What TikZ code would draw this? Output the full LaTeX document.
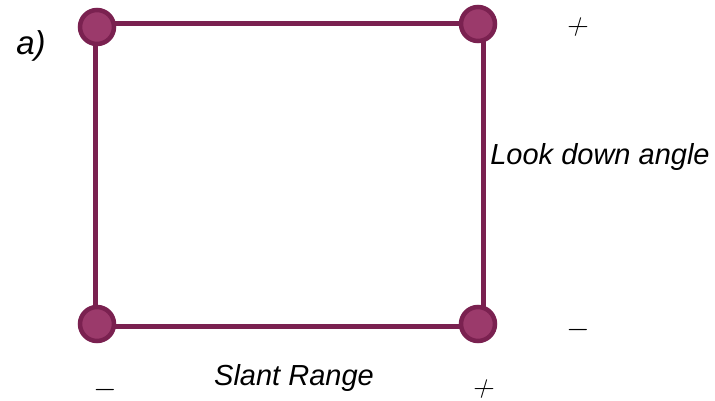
\documentclass[tikz,border=0pt]{standalone}
\usepackage{fontspec}
\setmainfont{Liberation Sans}
\definecolor{edgec}{RGB}{122,33,80}
\definecolor{fillc}{RGB}{155,58,107}
\begin{document}
\begin{tikzpicture}[x=1pt,y=-1pt,
  dot/.style={circle,draw=edgec,fill=fillc,line width=4.5pt,minimum size=34pt,inner sep=0pt},
  edge/.style={draw=edgec,line width=5pt},
  lbl/.style={font=\fontsize{29}{31}\selectfont\itshape,inner sep=0pt},
  sgn/.style={font=\Huge,inner sep=0pt,xslant=0.3,scale=1.2,transform shape}]
\useasboundingbox (0,0) rectangle (715,401);
\coordinate (tl) at (95,24);
\coordinate (tr) at (483,24);
\coordinate (bl) at (95,326);
\coordinate (br) at (483,326);
\draw[edge] (tl) -- (tr) -- (br) -- (bl) -- cycle;
\node[dot] (ntl) at (97,27) {};
\node[dot] (ntr) at (478,24) {};
\node[dot] (nbl) at (97,324) {};
\node[dot] (nbr) at (478,324) {};
\node[lbl,font=\fontsize{33}{35}\selectfont\itshape] (a) at (31,46) {a)};
\node[lbl] (look) at (600,157) {Look down angle};
\node[lbl] (slant) at (294,378) {Slant Range};
\node[sgn] (p1) at (578,27) {$+$};
\node[sgn] (p2) at (484,389) {$+$};
\node[sgn] (m1) at (578,330) {$-$};
\node[sgn] (m2) at (105,390) {$-$};
\end{tikzpicture}
\end{document}
